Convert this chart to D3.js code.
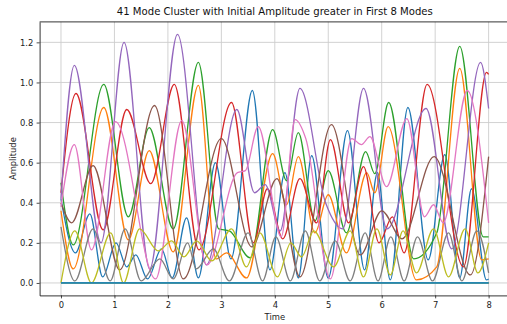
<!DOCTYPE html>
<html>
<head>
<meta charset="utf-8">
<script src="https://cdnjs.cloudflare.com/ajax/libs/d3/7.8.5/d3.min.js"></script>
<style>
  body { margin: 0; background: #fff; }
  svg { display: block; font-family: "DejaVu Sans", sans-serif; }
</style>
</head>
<body>
<div id="chart"></div>
<script>
// chart text + ticks
const title = "41 Mode Cluster with Initial Amplitude greater in First 8 Modes"
const xLabel = "Time"
const yLabel = "Amplitude"
const xTicks = [0, 1, 2, 3, 4, 5, 6, 7, 8]
const yTicks = [0.0, 0.2, 0.4, 0.6, 0.8, 1.0, 1.2]

// amplitude of each active mode, [time, amplitude] read at the turning points
const mode1 = [[0,0.42],[0.27,0.15],[0.54,0.345],[0.78,0.03],[1.03,0.2],[1.23,0.08],[1.4,0.14],[1.62,0.02],[1.88,0.17],[2.08,0.025],[2.35,0.325],[2.57,0.025],[2.89,0.6],[3.18,0.12],[3.58,0.96],[3.91,0.065],[4.19,0.55],[4.44,0.025],[4.69,0.635],[5.0,0.025],[5.36,0.76],[5.68,0.065],[5.92,0.55],[6.16,0.015],[6.49,0.875],[6.87,0.115],[7.18,0.64],[7.46,0.025],[7.68,0.47],[7.96,0.015],[8,0.02]]
const mode2 = [[0,0.36],[0.23,0.07],[0.8,0.875],[1.26,0.215],[1.65,0.66],[2.1,0.155],[2.57,0.985],[2.9,0.12],[3.1,0.15],[3.47,0.025],[3.96,0.645],[4.22,0.39],[4.44,0.63],[4.75,0.25],[5.0,0.44],[5.34,0.15],[5.72,0.55],[5.87,0.45],[6.12,0.78],[6.65,0.015],[7.03,0.08],[7.46,1.07],[7.87,0.115],[8,0.12]]
const mode3 = [[0,0.5],[0.23,0.19],[0.8,0.99],[1.26,0.33],[1.65,0.775],[2.1,0.27],[2.57,1.1],[2.95,0.27],[3.15,0.26],[3.54,0.125],[3.96,0.765],[4.22,0.51],[4.44,0.75],[4.75,0.31],[5.0,0.56],[5.34,0.25],[5.7,0.655],[5.87,0.545],[6.13,0.9],[6.6,0.12],[7.03,0.25],[7.46,1.18],[7.9,0.23],[8,0.23]]
const mode4 = [[0,0.45],[0.28,0.945],[0.79,0.265],[1.23,0.865],[1.68,0.495],[2.12,0.99],[2.58,0.165],[3.19,0.9],[3.6,0.2],[3.86,0.47],[4.15,0.22],[4.47,0.52],[4.78,0.3],[5.04,0.715],[5.38,0.3],[5.66,0.58],[5.95,0.2],[6.2,0.33],[6.42,0.15],[6.85,0.99],[7.53,0.08],[7.96,1.05],[8,1.04]]
const mode5 = [[0,0.42],[0.25,1.085],[0.75,0.2],[1.18,1.2],[1.66,0.07],[2.18,1.24],[2.72,0.09],[3.29,0.865],[3.62,0.45],[3.82,0.49],[4.1,0.26],[4.47,0.97],[4.95,0.4],[5.27,0.27],[5.66,0.97],[6.1,0.27],[6.83,0.87],[7.31,0.17],[7.85,1.1],[8,0.87]]
const mode6 = [[0,0.4],[0.2,0.3],[0.6,0.585],[1.1,0.065],[1.75,0.885],[2.29,0.02],[3.0,0.72],[3.57,0.18],[4.04,0.52],[4.47,0.03],[5.06,0.79],[5.6,0.14],[6.0,0.36],[6.38,0.22],[6.98,0.63],[7.66,0.04],[8,0.63]]
const mode7 = [[0,0.38],[0.25,0.69],[0.57,0.165],[1.02,0.805],[1.77,0.02],[2.26,0.81],[2.73,0.09],[3.3,0.55],[3.45,0.56],[3.69,0.78],[4.12,0.23],[4.38,0.815],[4.58,0.72],[5.04,0.02],[5.44,0.72],[5.62,0.69],[5.78,0.73],[6.09,0.48],[6.47,0.82],[6.8,0.33],[6.97,0.39],[7.15,0.3],[7.6,0.96],[8,0.3]]
const mode8 = [[0,0.28],[0.26,0.01],[0.6,0.27],[0.92,0.01],[1.2,0.27],[1.5,0.01],[1.85,0.12],[2.1,0.02],[2.37,0.2],[2.53,0.07],[2.85,0.17],[3.15,0.01],[3.5,0.25],[3.77,0.01],[4.02,0.23],[4.29,0.01],[4.57,0.26],[4.84,0.01],[5.13,0.21],[5.41,0.01],[5.69,0.25],[5.93,0.01],[6.17,0.23],[6.42,0.01],[6.67,0.23],[6.95,0.01],[7.25,0.25],[7.5,0.01],[7.78,0.26],[8,0.05]]
const mode9 = [[0,0],[0.26,0.26],[0.57,0],[0.93,0.25],[1.17,0],[1.47,0.27],[1.82,0.16],[2.07,0.21],[2.3,0.13],[2.54,0.21],[2.82,0.11],[3.19,0.27],[3.47,0.08],[3.72,0.25],[4.05,0.03],[4.3,0.2],[4.5,0.13],[4.73,0.26],[5.1,0.08],[5.41,0.26],[5.66,0.03],[5.91,0.27],[6.16,0.04],[6.4,0.26],[6.65,0.05],[6.97,0.27],[7.25,0.03],[7.56,0.27],[7.8,0.05],[8,0.2]]

// the remaining 32 modes stay at zero the whole time
const quietMode = [[0,0],[8,0]]
const quietModeCount = 32

const palette = ['#1f77b4','#ff7f0e','#2ca02c','#d62728','#9467bd','#8c564b','#e377c2','#7f7f7f','#bcbd22','#17becf']

const width = 507
const height = 324
const box = { left: 39.6, right: 510, top: 21.9, bottom: 295.4 }
const fontSize = '8.4px'

const x = d3.scaleLinear().domain([-0.4, 8.4]).range([box.left, box.right])
const y = d3.scaleLinear().domain([-0.062, 1.302]).range([box.bottom, box.top])

const svg = d3.select('#chart')
    .append('svg')
    .attr('width', width)
    .attr('height', height)

// grid
svg.append('g')
    .selectAll('line')
    .data(xTicks)
    .join('line')
    .attr('x1', d => x(d)).attr('x2', d => x(d))
    .attr('y1', box.top).attr('y2', box.bottom)
    .attr('stroke', '#cdcdcd')
    .attr('stroke-width', 0.9)

svg.append('g')
    .selectAll('line')
    .data(yTicks)
    .join('line')
    .attr('x1', box.left).attr('x2', box.right)
    .attr('y1', d => y(d)).attr('y2', d => y(d))
    .attr('stroke', '#cdcdcd')
    .attr('stroke-width', 0.9)

const line = d3.line()
    .x(d => x(d[0]))
    .y(d => y(d[1]))
    .curve(d3.curveMonotoneX)

const modes = [mode1, mode2, mode3, mode4, mode5, mode6, mode7, mode8, mode9]

const all = modes.slice()
for (let i = 0; i < quietModeCount; i++) all.push(quietMode)

svg.append('g')
    .selectAll('path')
    .data(all)
    .join('path')
    .attr('d', line)
    .attr('fill', 'none')
    .attr('stroke', (d, i) => palette[i % 10])
    .attr('stroke-width', 1.3)
    .attr('stroke-linejoin', 'round')

// axes
const xAxis = d3.axisBottom(x)
    .tickValues(xTicks)
    .tickFormat(d3.format('d'))
    .tickSize(3)
    .tickSizeOuter(0)
    .tickPadding(3.2)

const yAxis = d3.axisLeft(y)
    .tickValues(yTicks)
    .tickFormat(d3.format('.1f'))
    .tickSize(3)
    .tickSizeOuter(0)
    .tickPadding(3.3)

const gx = svg.append('g')
    .attr('transform', `translate(0,${box.bottom})`)
    .call(xAxis)

const gy = svg.append('g')
    .attr('transform', `translate(${box.left},0)`)
    .call(yAxis)

for (const g of [gx, gy]) {
    g.select('.domain').attr('stroke', '#000').attr('stroke-width', 0.8)
    g.selectAll('.tick line').attr('stroke', '#000').attr('stroke-width', 0.7)
    g.selectAll('.tick text')
        .attr('fill', '#222')
        .style('font-size', fontSize)
        .style('font-family', '"DejaVu Sans", sans-serif')
}

// top spine
svg.append('line')
    .attr('x1', box.left).attr('x2', box.right)
    .attr('y1', box.top).attr('y2', box.top)
    .attr('stroke', '#000')
    .attr('stroke-width', 0.8)

svg.append('text')
    .attr('x', (box.left + box.right) / 2)
    .attr('y', 15.4)
    .attr('text-anchor', 'middle')
    .style('font-size', '10.1px')
    .attr('fill', '#111')
    .text(title)

svg.append('text')
    .attr('x', (box.left + box.right) / 2)
    .attr('y', 320.2)
    .attr('text-anchor', 'middle')
    .style('font-size', fontSize)
    .attr('fill', '#222')
    .text(xLabel)

svg.append('text')
    .attr('transform', `translate(15.8,${(box.top + box.bottom) / 2}) rotate(-90)`)
    .attr('text-anchor', 'middle')
    .style('font-size', fontSize)
    .attr('fill', '#222')
    .text(yLabel)
</script>
</body>
</html>
